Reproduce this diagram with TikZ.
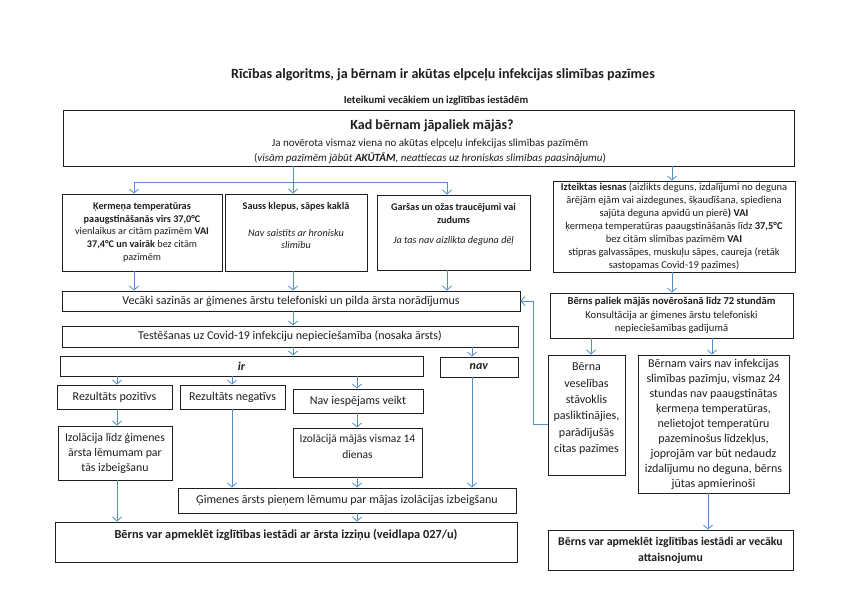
\documentclass[tikz,border=0pt]{standalone}
\usepackage{fontspec}
\setmainfont{Carlito}
\usetikzlibrary{arrows.meta}
\definecolor{arr}{RGB}{84,141,199}
\definecolor{ink}{RGB}{30,30,30}
\begin{document}
\begin{tikzpicture}[x=1pt,y=-1pt,
  box/.style={draw=ink, line width=0.9pt, inner sep=0pt, align=center, text=ink, font=\fontsize{12}{15}\selectfont},
  txt/.style={inner sep=0pt, align=center, text=ink, font=\fontsize{12}{15}\selectfont},
  small/.style={font=\fontsize{10.2}{12.8}\selectfont},
  ln/.style={draw=arr, line width=0.8pt},
  conn/.style={draw=arr, line width=0.8pt, -{Straight Barb[length=4pt,width=9pt]}}]
\useasboundingbox[fill=white] (0,0) rectangle (848,600);

% titles
\node[txt, font=\fontsize{14.1}{17}\selectfont\bfseries] (title) at (443,75) {Rīcības algoritms, ja bērnam ir akūtas elpceļu infekcijas slimības pazīmes};
\node[txt, font=\fontsize{10.7}{13}\selectfont\bfseries] (sub) at (436,101) {Ieteikumi vecākiem un izglītības iestādēm};

% top box
\node[box, minimum width=731, minimum height=56] (Top) at (428.5,138) {};
\node[txt, font=\fontsize{14}{16}\selectfont\bfseries] (TopH) at (432,126) {Kad bērnam jāpaliek mājās?};
\node[txt, font=\fontsize{11}{14.5}\selectfont] (TopT) at (430,151) {Ja novērota vismaz viena no akūtas elpceļu infekcijas slimības pazīmēm\\
(\textit{visām pazīmēm jābūt \textbf{AKŪTĀM}, neattiecas uz hroniskas slimības paasinājumu})};

% symptom boxes
\node[box, small, minimum width=160, minimum height=77] (A) at (142,232.5)
 {\textbf{Ķermeņa temperatūras}\\ \textbf{paaugstināšanās virs 37,0°C}\\ vienlaikus ar citām pazīmēm \textbf{VAI}\\ \textbf{37,4°C un vairāk} bez citām\\ pazīmēm};
\node[box, minimum width=142, minimum height=77] (B) at (296,232.5) {};
\node[txt, small, anchor=north] (Bt) at (296,202) {\textbf{Sauss klepus, sāpes kaklā}\\[14pt] \textit{Nav saistīts ar hronisku}\\ \textit{slimību}};
\node[box, minimum width=153, minimum height=75] (C) at (453.5,232.5) {};
\node[txt, small, anchor=north] (Ct) at (453.5,203) {\textbf{Garšas un ožas traucējumi vai}\\ \textbf{zudums}\\[8pt] \textit{Ja tas nav aizlikta deguna dēļ}};

\node[box, minimum width=242, minimum height=91, font=\fontsize{10.5}{12.9}\selectfont] (R1) at (674,226.5)
 {\textbf{Izteiktas iesnas} (aizlikts deguns, izdalījumi no deguna\\ ārējām ejām vai aizdegunes, šķaudīšana, spiediena\\ sajūta deguna apvidū un pierē\textbf{) VAI}\\ ķermeņa temperatūras paaugstināšanās līdz \textbf{37,5°C}\\ bez citām slimības pazīmēm \textbf{VAI}\\ stipras galvassāpes, muskuļu sāpes, caureja (retāk\\ sastopamas Covid-19 pazīmes)};

% left flow
\node[box, minimum width=458, minimum height=20] (V) at (291,301) {Vecāki sazinās ar ģimenes ārstu telefoniski un pilda ārsta norādījumus};
\node[box, minimum width=456, minimum height=21] (T) at (290,336.5) {Testēšanas uz Covid-19 infekciju nepieciešamība (nosaka ārsts)};
\node[box, minimum width=363, minimum height=20] (IR) at (241.5,366) {\textbf{\textit{ir}}};
\node[box, minimum width=78, minimum height=20] (NAV) at (479,367) {\textbf{\textit{nav}}};
\node[box, minimum width=115, minimum height=24] (RP) at (114.5,397) {Rezultāts pozitīvs};
\node[box, minimum width=105, minimum height=24] (RN) at (232.5,397) {Rezultāts negatīvs};
\node[box, minimum width=130, minimum height=24] (NI) at (358,401) {Nav iespējams veikt};
\node[box, minimum width=114, minimum height=54, font=\fontsize{11.8}{15}\selectfont] (IL) at (115,453) {Izolācija līdz ģimenes\\ ārsta lēmumam par\\ tās izbeigšanu};
\node[box, minimum width=129, minimum height=49] (IZ) at (357.5,452.5) {};
\node[txt, anchor=north, font=\fontsize{11.5}{16}\selectfont] (IZt) at (357.5,434) {Izolācijā mājās vismaz 14\\ dienas};
\node[box, minimum width=338, minimum height=25] (G) at (347,500.5) {Ģimenes ārsts pieņem lēmumu par mājas izolācijas izbeigšanu};
\node[box, minimum width=462, minimum height=40] (BOT) at (286,542) {};
\node[txt, anchor=north, font=\fontsize{12.3}{14}\selectfont\bfseries] (BOTt) at (286,529) {Bērns var apmeklēt izglītības iestādi ar ārsta izziņu (veidlapa 027/u)};

% right flow
\node[box, minimum width=243, minimum height=45, font=\fontsize{10.6}{13.5}\selectfont] (R2) at (671.5,315.5)
 {\textbf{Bērns paliek mājās novērošanā līdz 72 stundām}\\ Konsultācija ar ģimenes ārstu telefoniski\\ nepieciešamības gadījumā};
\node[box, minimum width=77, minimum height=120] (R3) at (586.5,415) {};
\node[txt, anchor=north, font=\fontsize{12}{16.3}\selectfont] (R3t) at (586.5,363) {Bērna\\ veselības\\ stāvoklis\\ pasliktinājies,\\ parādījušās\\ citas pazīmes};
\node[box, minimum width=151, minimum height=138] (R4) at (713.5,424)
 {Bērnam vairs nav infekcijas\\ slimības pazīmju, vismaz 24\\ stundas nav paaugstinātas\\ ķermeņa temperatūras,\\ nelietojot temperatūru\\ pazeminošus līdzekļus,\\ joprojām var būt nedaudz\\ izdalījumu no deguna, bērns\\ jūtas apmierinoši};
\node[box, minimum width=245, minimum height=40, font=\fontsize{11.8}{16}\selectfont\bfseries] (R5) at (670.5,550)
 {Bērns var apmeklēt izglītības iestādi ar vecāku\\ attaisnojumu};

% helper coordinates
\coordinate (xa) at (134,0);
\coordinate (xb) at (293,0);
\coordinate (xc) at (447,0);
\coordinate (xr) at (672,0);
\coordinate (xn) at (472,0);
\coordinate (x1) at (117,0);
\coordinate (x2) at (232,0);
\coordinate (x3) at (357,0);
\coordinate (xr3) at (591,0);
\coordinate (xr4) at (712,0);
\coordinate (xr5) at (708,0);
\coordinate (xfb) at (533,0);
\coordinate (ht) at (0,182);
\coordinate (fb) at (0,424);

% connectors
\draw[ln] (xb |- Top.south) -- (xb |- ht);
\draw[ln] (xa |- ht) -- (xc |- ht);
\draw[conn] (xa |- ht) -- (xa |- A.north);
\draw[conn] (xb |- ht) -- (xb |- B.north);
\draw[conn] (xc |- ht) -- (xc |- C.north);
\draw[conn] (xr |- Top.south) -- (xr |- R1.north);

\draw[conn] (xa |- A.south) -- (xa |- V.north);
\draw[conn] (xb |- B.south) -- (xb |- V.north);
\draw[conn] (xc |- C.south) -- (xc |- V.north);
\draw[conn] (xb |- V.south) -- (xb |- T.north);
\draw[conn] (xb |- T.south) -- (xb |- IR.north);
\draw[conn] (xn |- T.south) -- (xn |- NAV.north);
\draw[conn] (x1 |- IR.south) -- (x1 |- RP.north);
\draw[conn] (x2 |- IR.south) -- (x2 |- RN.north);
\draw[conn] (x3 |- IR.south) -- (x3 |- NI.north);
\draw[conn] (x1 |- RP.south) -- (x1 |- IL.north);
\draw[conn] (x3 |- NI.south) -- (x3 |- IZ.north);
\draw[conn] (x2 |- RN.south) -- (x2 |- G.north);
\draw[conn] (x3 |- IZ.south) -- (x3 |- G.north);
\draw[conn] (xn |- NAV.south) -- (xn |- G.north);
\draw[conn] (x1 |- IL.south) -- (x1 |- BOT.north);
\draw[conn] (x3 |- G.south) -- (x3 |- BOT.north);

\draw[conn] (xr |- R1.south) -- (xr |- R2.north);
\draw[conn] (xr3 |- R2.south) -- (xr3 |- R3.north);
\draw[conn] (xr4 |- R2.south) -- (xr4 |- R4.north);
\draw[conn] (fb -| R3.west) -- (fb -| xfb) -- (xfb |- V.east) -- (V.east);
\draw[conn] (xr5 |- R4.south) -- (xr5 |- R5.north);
\end{tikzpicture}
\end{document}
